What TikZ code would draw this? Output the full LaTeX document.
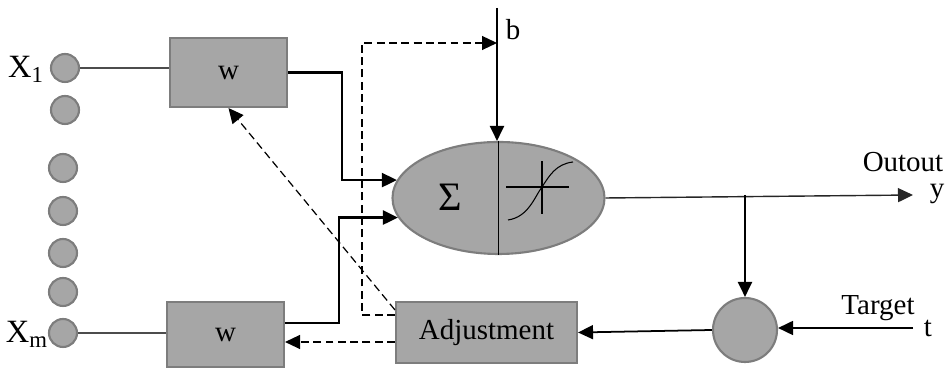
\documentclass[tikz,border=0pt]{standalone}
\usepackage{fontspec}
\setmainfont{Liberation Serif}
\usepackage{tikz}
\usetikzlibrary{shapes.geometric,arrows.meta,positioning,calc}
\definecolor{cellgray}{RGB}{166,166,166}
\definecolor{rimgray}{RGB}{125,125,125}

\begin{document}
\begin{tikzpicture}[
    font=\fontsize{16.5}{18}\selectfont,
    wbox/.style={draw=rimgray, line width=1.2pt, fill=cellgray, minimum width=2.34cm, inner sep=0pt},
    inp/.style={circle, draw=rimgray, line width=1.2pt, fill=cellgray, minimum size=0.56cm, inner sep=0pt},
    tip/.style={-{Triangle[length=3mm,width=2.8mm]}},
    sig/.style={black, line width=1.4pt},
    fb/.style={black, line width=0.7pt, dash pattern=on 4.5pt off 2.5pt}
]
    \useasboundingbox (0,0) rectangle (18.98,7.4);

    % --- Inputs ---
    \node[inp] (x1) at (1.3,6.04) {};
    \node[inp] (x2) at (1.3,5.2) {};
    \node[inp] (x3) at (1.26,4.04) {};
    \node[inp] (x4) at (1.26,3.18) {};
    \node[inp] (x5) at (1.26,2.34) {};
    \node[inp] (x6) at (1.26,1.56) {};
    \node[inp] (xm) at (1.26,0.74) {};
    \node[font=\fontsize{18.5}{20}\selectfont] (lx1) at (0.52,6.01) {X\textsubscript{1}};
    \node[font=\fontsize{18.5}{20}\selectfont] (lxm) at (0.54,0.71) {X\textsubscript{m}};

    % --- Weights ---
    \node[wbox, minimum height=1.38cm] (wtop) at (4.57,5.95) {w};
    \node[wbox, minimum height=1.3cm] (wbot) at (4.51,0.71) {w};
    \draw[black!70, line width=0.7pt] (x1) -- (x1 -| wtop.west);
    \draw[black!70, line width=0.7pt] (xm) -- (xm -| wbot.west);

    % --- Neuron ---
    \node[ellipse, draw=rimgray, line width=1.2pt, fill=cellgray, minimum width=4.24cm, minimum height=2.24cm, inner sep=0pt] (ell) at (9.97,3.44) {};
    \draw[black, line width=0.6pt] (ell.north) -- (ell.south);
    \node (sum) at ($(ell.center)+(-0.97,0.02)$) {\fontsize{23}{25}\selectfont Σ};
    \begin{scope}[shift={(ell.center)}]
        \draw[line width=1.2pt] (0.15,0.22) -- (1.41,0.22);
        \draw[line width=1.2pt] (0.87,-0.32) -- (0.87,0.74);
        \draw[line width=0.6pt] (0.19,-0.44) .. controls (0.6,-0.38) and (0.72,0.02) .. (0.87,0.22)
            .. controls (1.02,0.45) and (1.15,0.68) .. (1.49,0.72);
    \end{scope}
    \draw[sig, tip] (wtop.east) -- ++(1.08,0) |- (ell.170);
    \draw[sig, tip] ([yshift=0.23cm]wbot.east) -- ++(1.08,0) |- (ell.191);

    % --- Bias ---
    \coordinate (bin) at (9.94,7.24);
    \node (lb) at (10.26,6.8) {b};
    \draw[sig, tip] (bin) -- (bin |- ell.north);

    % --- Output and error ---
    \coordinate (yout) at (18.26,3.5);
    \node[anchor=east] (lout) at (18.99,4.16) {Outout};
    \node (ly) at (18.74,3.52) {y};
    \draw[black!85, line width=0.8pt, tip] (ell.east) -- (yout);
    \node[circle, draw=rimgray, line width=1.2pt, fill=cellgray, minimum size=1.28cm, inner sep=0pt] (cmp) at (14.9,0.8) {};
    \draw[sig, tip] (cmp.north |- yout) -- (cmp.north);
    \coordinate (tin) at (18.26,0.84);
    \node (ltar) at (17.56,1.24) {Target};
    \node (lt) at (18.56,0.84) {t};
    \draw[black, line width=1pt, tip] (tin) -- (tin -| cmp.east);
    \node[wbox, minimum width=3.62cm, minimum height=1.22cm] (adj) at (9.73,0.75) {Adjustment};
    \draw[black, line width=1pt, tip] (cmp.west) -- (adj.east);

    % --- Feedback (dashed) ---
    \draw[fb, tip] ([yshift=0.35cm]adj.west) -- ++(-0.66,0) |- (9.94,6.54);
    \draw[fb, tip] ([yshift=-0.18cm]adj.north west) -- (wtop.south);
    \draw[fb, tip] ([yshift=-0.19cm]adj.west) -- ([yshift=-0.19cm]adj.west -| wbot.east);
\end{tikzpicture}
\end{document}
